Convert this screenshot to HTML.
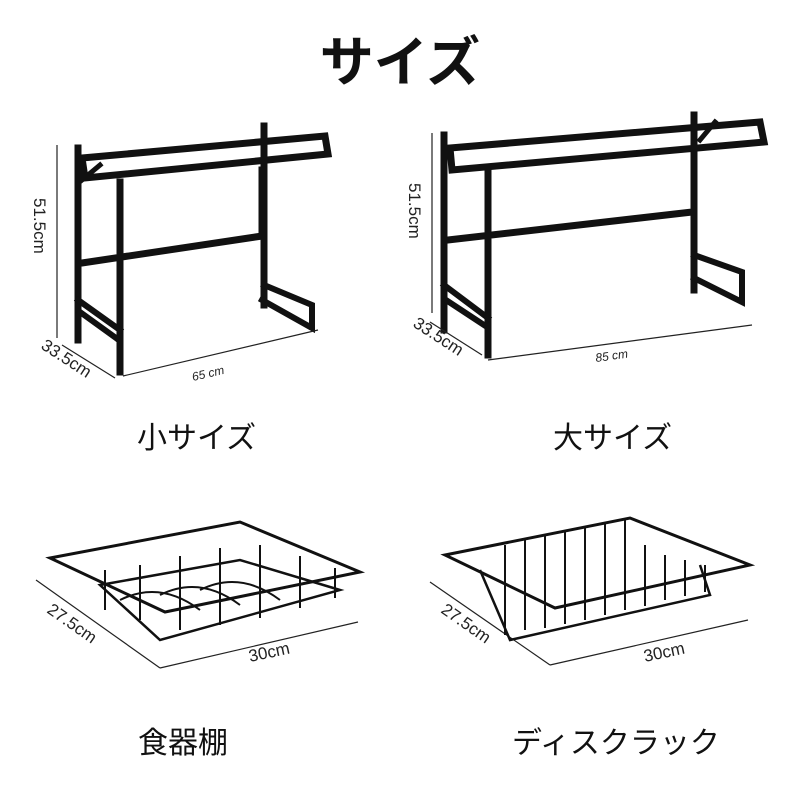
<!DOCTYPE html>
<html><head><meta charset="utf-8"><style>
body{margin:0;background:#fff;width:800px;height:800px;overflow:hidden;position:relative;font-family:"Liberation Sans","Noto Sans CJK JP",sans-serif}
.t{position:absolute;color:#111;white-space:nowrap}
</style></head><body>
<div class="t" style="left:0;width:800px;text-align:center;top:18px;font-size:54px;font-weight:bold">サイズ</div>
<div class="t" style="left:137px;top:413px;font-size:30px">小サイズ</div>
<div class="t" style="left:553px;top:413px;font-size:30px">大サイズ</div>
<div class="t" style="left:138px;top:718px;font-size:30px">食器棚</div>
<div class="t" style="left:512px;top:718px;font-size:30px">ディスクラック</div>
<svg width="800" height="800" style="position:absolute;left:0;top:0" font-family="Liberation Sans, sans-serif">
<g stroke="#111" fill="none" stroke-linecap="square">
<path d="M82 158 L325 136 L328 154 L85 178 Z" stroke-width="7"/>
<path d="M78 148 V340 M120 182 V372 M264 126 V305 M262 170 V230 M82 263 L262 236" stroke-width="7"/>
<path d="M78 300 L120 330 M80 312 L116 338 M264 285 L312 305 V328 L262 300" stroke-width="6"/>
<path d="M82 180 L100 165" stroke-width="5"/>
<path d="M450 148 L760 122 L764 142 L452 170 Z" stroke-width="7"/>
<path d="M444 135 V330 M488 172 V355 M694 115 V290 M448 240 L692 212" stroke-width="7"/>
<path d="M444 285 L488 318 M446 300 L484 325 M694 255 L742 272 V302 L694 278" stroke-width="6"/>
<path d="M700 140 L715 122" stroke-width="5"/>
</g>
<g stroke="#222" stroke-width="1.2" fill="#222">
<line x1="57" y1="145" x2="57" y2="338"/>
<line x1="62" y1="345" x2="115" y2="378"/>
<line x1="123" y1="376" x2="318" y2="330"/>
<line x1="432" y1="133" x2="432" y2="313"/>
<line x1="430" y1="322" x2="482" y2="355"/>
<line x1="488" y1="360" x2="752" y2="325"/>
<line x1="36" y1="580" x2="160" y2="668"/>
<line x1="160" y1="668" x2="358" y2="622"/>
<line x1="430" y1="582" x2="550" y2="665"/>
<line x1="550" y1="665" x2="748" y2="620"/>
</g>
<g fill="#222" font-size="17">
<text transform="translate(34,198) rotate(90)">51.5cm</text>
<text transform="translate(40,348) rotate(33)">33.5cm</text>
<text transform="translate(193,381) rotate(-13)" font-style="italic" font-size="12">65 cm</text>
<text transform="translate(409,183) rotate(90)">51.5cm</text>
<text transform="translate(412,326) rotate(33)">33.5cm</text>
<text transform="translate(596,362) rotate(-8)" font-style="italic" font-size="12">85 cm</text>
<text transform="translate(46,612) rotate(35)">27.5cm</text>
<text transform="translate(250,662) rotate(-12)">30cm</text>
<text transform="translate(440,612) rotate(35)">27.5cm</text>
<text transform="translate(645,662) rotate(-12)">30cm</text>
</g>
<g stroke="#111" fill="none" stroke-width="3">
<path d="M50 558 L240 522 L360 572 L165 612 Z"/>
<path d="M100 585 L240 560 L340 590 L160 640 Z" stroke-width="2.5"/>
<path d="M105 570 V610 M140 565 V620 M180 556 V630 M220 548 V625 M260 545 V618 M300 556 V608 M335 568 V598" stroke-width="2"/>
<path d="M120 600 Q160 580 200 610 M160 595 Q200 575 240 605 M200 590 Q240 570 280 600" stroke-width="2"/>
<path d="M445 555 L630 518 L750 565 L555 608 Z"/>
<path d="M480 570 L510 640 L710 595 L700 565" stroke-width="2.5"/>
<path d="M505 545 V635 M525 540 V630 M545 536 V628 M565 532 V624 M585 528 V620 M605 524 V615 M625 520 V610 M645 545 V606 M665 555 V600 M685 560 V596 M705 565 V592" stroke-width="2"/>
</g>
</svg>
</body></html>
